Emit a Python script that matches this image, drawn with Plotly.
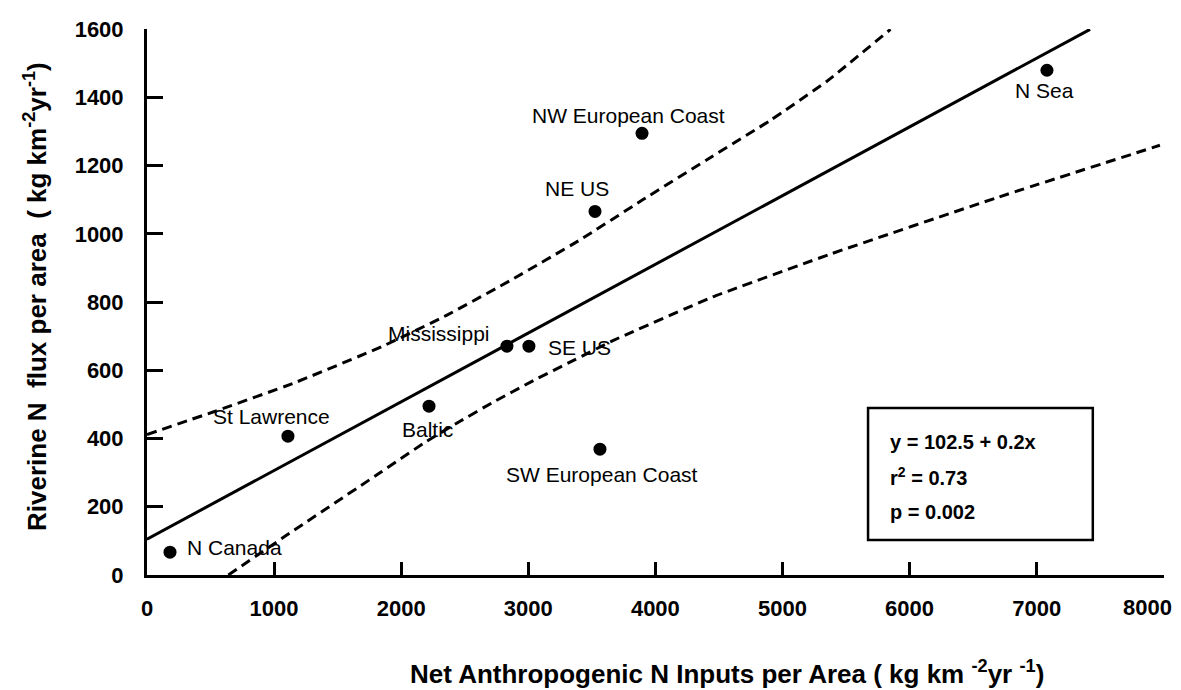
import plotly.graph_objects as go

# ---- data ----
regions = ["N Canada", "St Lawrence", "Baltic", "Mississippi", "SE US",
           "NE US", "NW European Coast", "SW European Coast", "N Sea"]
net_inputs = [181, 1109, 2219, 2832, 3005, 3525, 3895, 3564, 7081]
riverine_flux = [67, 407, 495, 671, 671, 1066, 1295, 369, 1480]

# regression line (as drawn)
fit_x = [0, 7420]
fit_y = [105, 1600]

# upper dashed confidence band (as drawn)
upper_x = [0, 520, 1150, 1850, 2360, 2880, 3400, 3900, 4450, 4900, 5350, 5850]
upper_y = [412, 478, 562, 670, 762, 868, 981, 1100, 1228, 1332, 1448, 1600]

# lower dashed confidence band (as drawn)
lower_x = [640, 1100, 1830, 2200, 2460, 2720, 3040, 3360, 3670, 4450, 5370, 6700, 7970]
lower_y = [0, 117, 299, 392, 450, 506, 570, 630, 688, 815, 940, 1108, 1260]

x_ticks = [0, 1000, 2000, 3000, 4000, 5000, 6000, 7000, 8000]
y_ticks = [0, 200, 400, 600, 800, 1000, 1200, 1400, 1600]

stats_lines = ["y = 102.5 + 0.2x", "r<sup>2</sup> = 0.73", "p = 0.002"]

# label offsets (pixels) relative to each point: (xshift, yshift, xanchor)
label_style = {
    "N Canada": (15, 5, "left"),
    "St Lawrence": (-16, 20, "center"),
    "Baltic": (-2, -23, "center"),
    "Mississippi": (-15, 13, "right"),
    "SE US": (17, -1, "left"),
    "NE US": (-18, 23, "center"),
    "NW European Coast": (-14, 18, "center"),
    "SW European Coast": (2, -25, "center"),
    "N Sea": (-2, -20, "center"),
}

FONT = "Arial, Liberation Sans, sans-serif"
TICKFONT = dict(family=FONT, size=22, color="black", weight="bold")

fig = go.Figure()

band_line = dict(color="black", width=3, dash="10px,6px", shape="spline", smoothing=0.4)
fig.add_trace(go.Scatter(x=upper_x, y=upper_y, mode="lines", line=band_line,
                         showlegend=False, hoverinfo="skip"))
fig.add_trace(go.Scatter(x=lower_x, y=lower_y, mode="lines", line=band_line,
                         showlegend=False, hoverinfo="skip"))
fig.add_trace(go.Scatter(x=fit_x, y=fit_y, mode="lines",
                         line=dict(color="black", width=3),
                         showlegend=False, hoverinfo="skip"))
fig.add_trace(go.Scatter(x=net_inputs, y=riverine_flux, mode="markers",
                         marker=dict(color="black", size=13),
                         cliponaxis=False, showlegend=False, text=regions))

for name, xv, yv in zip(regions, net_inputs, riverine_flux):
    xs, ys, xa = label_style[name]
    fig.add_annotation(x=xv, y=yv, text=name, showarrow=False,
                       xshift=xs, yshift=ys, xanchor=xa, yanchor="middle",
                       font=dict(family=FONT, size=21, color="black"))

# stats box
fig.add_shape(type="rect", xref="paper", yref="paper",
              x0=0.709, x1=0.930, y0=0.064, y1=0.306,
              line=dict(color="black", width=2.5), fillcolor="white", layer="above")
for i, t in enumerate(stats_lines):
    fig.add_annotation(xref="paper", yref="paper", x=0.7286, y=0.2436 - i * 0.0641,
                       text=t, showarrow=False, xanchor="left", yanchor="middle",
                       font=dict(family=FONT, size=20, color="black", weight="bold"))

# last x tick label, nudged left so it stays inside the page (as in the reference)
x_ticktext = [str(v) for v in x_ticks[:-1]] + [""]
fig.add_annotation(x=x_ticks[-1], y=0, xref="x", yref="y", text=str(x_ticks[-1]),
                   showarrow=False, xanchor="center", yanchor="middle",
                   xshift=-16, yshift=-32, font=TICKFONT)

# axis titles
fig.add_annotation(xref="paper", yref="paper", x=(408 - 147) / 1017, y=(575 - 672) / 546,
                   text="Net Anthropogenic N Inputs per Area ( kg km <sup>-2</sup>yr <sup>-1</sup>)",
                   showarrow=False, xanchor="left", yanchor="middle",
                   font=dict(family=FONT, size=26, color="black", weight="bold"))
fig.add_annotation(xref="paper", yref="paper", x=(35 - 147) / 1017, y=(575 - 297) / 546,
                   text="Riverine N  flux per area  ( kg km<sup>-2</sup>yr<sup>-1</sup>)",
                   textangle=-90, showarrow=False, xanchor="center", yanchor="middle",
                   font=dict(family=FONT, size=26, color="black", weight="bold"))

fig.update_layout(
    width=1181, height=690,
    margin=dict(l=147, r=17, t=29, b=115, autoexpand=False),
    paper_bgcolor="white", plot_bgcolor="white",
    font=dict(family=FONT, color="black"),
    showlegend=False,
)
fig.update_xaxes(range=[0, 8002], tickvals=x_ticks, ticktext=x_ticktext,
                 automargin=False,
                 showgrid=False, zeroline=False, showline=True, linecolor="black", linewidth=3,
                 ticks="inside", ticklen=13, tickwidth=2.5, tickcolor="black",
                 ticklabelstandoff=12, ticklabeloverflow="allow",
                 tickfont=TICKFONT)
fig.update_yaxes(range=[0, 1601], tickvals=y_ticks, ticktext=[str(v) for v in y_ticks],
                 automargin=False,
                 showgrid=False, zeroline=False, showline=True, linecolor="black", linewidth=3,
                 ticks="inside", ticklen=16, tickwidth=2.5, tickcolor="black",
                 ticklabelstandoff=16, ticklabeloverflow="allow",
                 tickfont=TICKFONT)

fig.write_html("out.html")
